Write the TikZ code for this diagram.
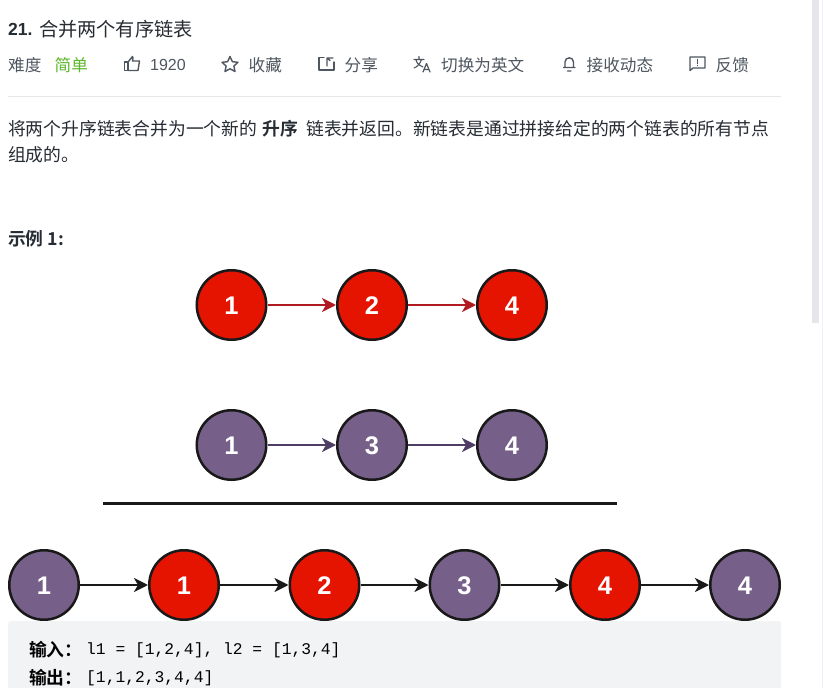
\documentclass[tikz,border=0pt]{standalone}
\usepackage{fontspec}
\setmainfont{Liberation Sans}
\newfontfamily\cjk{Noto Sans CJK SC}
\newfontfamily\cjkb{Noto Sans CJK SC}[BoldFont={Noto Sans CJK SC Bold}]
\newfontfamily\codefont{Liberation Mono}
\usetikzlibrary{arrows.meta}
\definecolor{inkdark}{HTML}{262C33}
\definecolor{inkgray}{HTML}{4E565F}
\definecolor{easygreen}{HTML}{5CB82A}
\definecolor{rulegray}{HTML}{E6E7EB}
\definecolor{codebg}{HTML}{F2F3F5}
\definecolor{scrollgray}{HTML}{E4E6EB}
\definecolor{scrolllight}{HTML}{F0F0F2}
\definecolor{nodered}{HTML}{E51400}
\definecolor{nodepurple}{HTML}{76608A}
\definecolor{linkred}{HTML}{B01A20}
\definecolor{linkpurple}{HTML}{4F3D66}
\tikzset{
  x=1pt,y=-1pt,
  listnode/.style={circle,draw=black!90,line width=2.5pt,minimum size=69.5pt,inner sep=0pt,text=white,text height=18pt,text depth=0pt,font=\fontsize{25.5}{26}\selectfont\bfseries},
  rednode/.style={listnode,fill=nodered},
  purplenode/.style={listnode,fill=nodepurple},
  link/.style={line width=2.3pt,-{Stealth[length=14pt,width=14pt,inset=4pt]}},
  blacklink/.style={link,line width=2.8pt},
  txt/.style={anchor=west,inner sep=0pt,text=inkgray,font=\fontsize{16.6}{16.6}\cjk\selectfont},
  body/.style={anchor=west,inner sep=0pt,text=inkdark,font=\fontsize{17.8}{17.8}\cjk\selectfont},
  bodyb/.style={body,font=\fontsize{17.8}{17.8}\cjkb\selectfont\bfseries},
  codelabel/.style={body,text=black,font=\fontsize{17.8}{17.8}\cjkb\selectfont\bfseries},
  codetext/.style={body,text=black,font=\fontsize{16.3}{16.3}\codefont\selectfont},
  icon/.style={draw=inkgray,line width=1.4pt,line join=round,line cap=round},
}
\begin{document}
\begin{tikzpicture}
\useasboundingbox (0,0) rectangle (823,688);
\fill[white] (0,0) rectangle (823,688);
% scrollbar
\fill[scrolllight] (821.7,0) rectangle (822.5,688);
\fill[scrollgray] (812,0) rectangle (819,323);
% header
\node[body,font=\fontsize{17.5}{17.5}\selectfont\bfseries] (num) at (8,29) {21.};
\node[body,font=\fontsize{19.2}{19.2}\cjk\selectfont] (title) at (39,29) {合并两个有序链表};
\node[txt] (difficulty) at (8,65) {难度};
\node[txt,text=easygreen] (easy) at (54.5,65) {简单};
\node[txt,font=\fontsize{16}{16}\selectfont] (likes) at (150,65) {1920};
\node[txt] (fav) at (248.5,65) {收藏};
\node[txt] (share) at (344.5,65) {分享};
\node[txt] (lang) at (441,65) {切换为英文};
\node[txt] (notify) at (586.5,65) {接收动态};
\node[txt] (feedback) at (715.5,65) {反馈};
% icons
\draw[icon] (124.5,62) rectangle (128,70.5);
\draw[icon] (128,62) -- (132.5,56.5) -- (133,58) -- (132.5,61) -- (139.5,61) -- (138,70.5) -- (128,70.5);
\draw[icon] (230,56.5) -- (232.4,61.7) -- (238,62.3) -- (233.9,66) -- (235,71.5) -- (230,68.8) -- (225,71.5) -- (226.1,66) -- (222,62.3) -- (227.6,61.7) -- cycle;
\draw[icon] (324,57.5) -- (319,57.5) -- (319,70) -- (334,70) -- (334,62);
\draw[icon] (327,66) -- (327,58) -- (333,58) (327,58) -- (330,60.5);
\draw[icon,line width=1.1pt] (414,59.5) -- (424,59.5) (419,56.5) -- (419,59.5) (421.5,59.5) .. controls (420,64) and (417,67) .. (414,68) (416,60) .. controls (417,64) and (420,66) .. (423,67);
\draw[icon,line width=1.2pt] (423,72) -- (426.5,63.5) -- (430,72) (424.2,69.5) -- (428.8,69.5);
\draw[icon] (563.5,67.5) -- (575,67.5) (565,67.5) -- (565,62) .. controls (565,56.5) and (573.5,56.5) .. (573.5,62) -- (573.5,67.5) (567.5,71) -- (571,71);
\draw[icon] (690,57) -- (705,57) -- (705,68) -- (693,68) -- (690,70.5) -- cycle;
\draw[icon] (697.5,59.5) -- (697.5,63.5) (697.5,65.5) -- (697.5,65.6);
\draw[rulegray,line width=1pt] (8,96.5) -- (781,96.5);
% description
\node[body] (desc1a) at (8,129) {将两个升序链表合并为一个新的};
\node[bodyb] (desc1b) at (262.5,129) {升序};
\node[body] (desc1c) at (306,129) {链表并返回。新链表是通过拼接给定的两个链表的所有节点};
\node[body] (desc2) at (8,155) {组成的。};
\node[bodyb] (example) at (8,239) {示例 1:};
% list one
\node[rednode] (a1) at (231.5,305) {1};
\node[rednode] (a2) at (372,305) {2};
\node[rednode] (a3) at (512,305) {4};
\draw[link,draw=linkred,fill=linkred] (a1) -- (a2);
\draw[link,draw=linkred,fill=linkred] (a2) -- (a3);
% list two
\node[purplenode] (b1) at (231.5,445) {1};
\node[purplenode] (b2) at (372,445) {3};
\node[purplenode] (b3) at (512,445) {4};
\draw[link,draw=linkpurple,fill=linkpurple] (b1) -- (b2);
\draw[link,draw=linkpurple,fill=linkpurple] (b2) -- (b3);
% divider
\coordinate (divl) at (103,503.5);
\coordinate (divr) at (617,503.5);
\draw[black!90,line width=2.6pt] (divl) -- (divr);
% merged list
\node[purplenode] (c1) at (44,585) {1};
\node[rednode] (c2) at (184,585) {1};
\node[rednode] (c3) at (324.5,585) {2};
\node[purplenode] (c4) at (464.5,585) {3};
\node[rednode] (c5) at (605,585) {4};
\node[purplenode] (c6) at (745,585) {4};
\foreach \p/\q in {c1/c2,c2/c3,c3/c4,c4/c5,c5/c6}
  \draw[blacklink,draw=black!90,fill=black!90] (\p) -- (\q);
% code block
\fill[codebg,rounded corners=3pt] (8,621) rectangle (781,695);
\node[codelabel] (inl) at (29,650) {输入：};
\node[codetext] (inv) at (86,650) {l1 = [1,2,4], l2 = [1,3,4]};
\node[codelabel] (outl) at (29,678) {输出：};
\node[codetext] (outv) at (86,678) {[1,1,2,3,4,4]};
\end{tikzpicture}
\end{document}
